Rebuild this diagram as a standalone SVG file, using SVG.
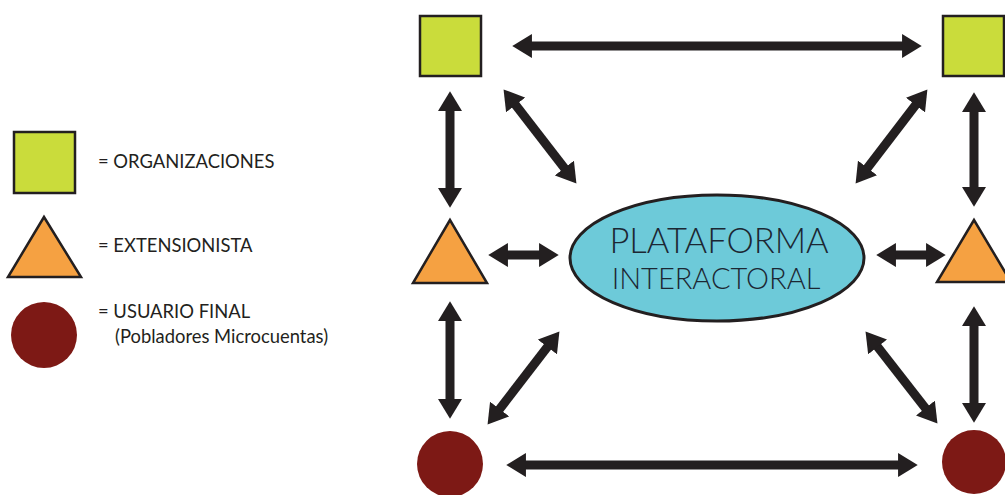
<svg xmlns="http://www.w3.org/2000/svg" width="1005" height="495" viewBox="0 0 1005 495">
  <style>
    .org { fill: #cadc3b; stroke: #231f20; stroke-width: 2.5; }
    .ext { fill: #f5a142; stroke: #231f20; stroke-width: 2.5; stroke-linejoin: miter; }
    .usr { fill: #7d1915; }
    .plat { fill: #6dcad9; stroke: #231f20; stroke-width: 3; }
    .lbl { font-family: Lato, "Liberation Sans", sans-serif; font-size: 18.4px; fill: #231f20; }
    .big { font-family: Lato, "Liberation Sans", sans-serif; font-weight: 300; fill: #1c2733; text-anchor: middle; }
    .link { stroke: #231f20; stroke-width: 9; fill: none; marker-start: url(#head); marker-end: url(#head); }
  </style>
  <defs>
    <marker id="head" markerUnits="userSpaceOnUse" markerWidth="20" markerHeight="24" viewBox="0 0 18 22" refX="10" refY="11" orient="auto-start-reverse">
      <path d="M0,0 L18,11 L0,22 Z" fill="#231f20"/>
    </marker>
  </defs>
  <rect width="1005" height="495" fill="#ffffff"/>

  <!-- legend -->
  <g id="legend">
    <rect class="org" x="14" y="132" width="61" height="61"/>
    <text class="lbl" x="98" y="168">= ORGANIZACIONES</text>
    <polygon class="ext" points="44,217 8,277 81,277"/>
    <text class="lbl" x="98" y="252">= EXTENSIONISTA</text>
    <circle class="usr" cx="44" cy="335" r="33"/>
    <text class="lbl" x="98" y="318">= USUARIO FINAL</text>
    <text class="lbl" x="115" y="343">(Pobladores Microcuentas)</text>
  </g>

  <!-- connectors -->
  <g id="connectors">
    <line class="link" x1="521" y1="46" x2="913" y2="46"/>
    <line class="link" x1="515" y1="465" x2="909" y2="465"/>
    <line class="link" x1="450" y1="100" x2="450" y2="199"/>
    <line class="link" x1="974" y1="101" x2="974" y2="198"/>
    <line class="link" x1="450" y1="310" x2="450" y2="410"/>
    <line class="link" x1="974" y1="315" x2="974" y2="414"/>
    <line class="link" x1="508.9" y1="96.3" x2="571.1" y2="176.7"/>
    <line class="link" x1="922.1" y1="96.4" x2="860.9" y2="176.6"/>
    <line class="link" x1="497" y1="255" x2="550" y2="255"/>
    <line class="link" x1="885" y1="255" x2="937" y2="255"/>
    <line class="link" x1="492.9" y1="417.7" x2="554.1" y2="338.3"/>
    <line class="link" x1="870.9" y1="338.3" x2="932.1" y2="416.7"/>
  </g>

  <!-- organizations -->
  <g id="org-left"><rect class="org" x="420" y="16" width="61" height="60"/></g>
  <g id="org-right"><rect class="org" x="943" y="16" width="61" height="60"/></g>

  <!-- extension workers -->
  <g id="ext-left"><polygon class="ext" points="450,220 413,283 487,283"/></g>
  <g id="ext-right"><polygon class="ext" points="974,220 937,282 1011,282"/></g>

  <!-- end users -->
  <g id="usr-left"><circle class="usr" cx="450" cy="464" r="33"/></g>
  <g id="usr-right"><circle class="usr" cx="974" cy="462" r="32"/></g>

  <!-- central platform -->
  <g id="plataforma">
    <ellipse class="plat" cx="717" cy="258" rx="147" ry="63"/>
    <text class="big" x="719" y="253" font-size="34.5">PLATAFORMA</text>
    <text class="big" x="716" y="289" font-size="29">INTERACTORAL</text>
  </g>
</svg>
